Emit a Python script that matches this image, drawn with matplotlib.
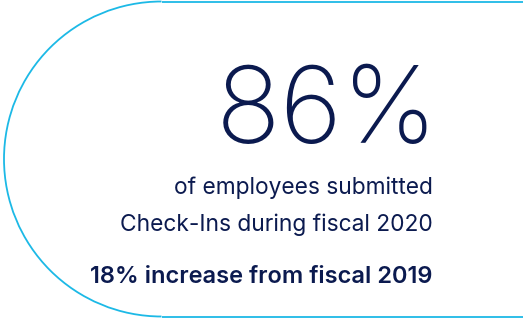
import matplotlib.pyplot as plt
from matplotlib.patches import Arc

# Content
headline = "86%"
subtitle_lines = ["of employees submitted", "Check-Ins during fiscal 2020"]
footnote = "18% increase from fiscal 2019"

navy = "#0b1a4f"
cyan = "#1cb9e6"

W, H = 523, 318
fig = plt.figure(figsize=(W / 100, H / 100), dpi=100)
ax = fig.add_axes([0, 0, 1, 1])
ax.set_xlim(0, W)
ax.set_ylim(H, 0)
ax.axis("off")

# Rounded outline (left half-circle + top/bottom edges)
r = 157.5
cx, cy = 4 + r, 159
ax.add_patch(Arc((cx, cy), 2 * r, 2 * r, theta1=90, theta2=270, color=cyan, lw=1.3))
ax.plot([cx, W], [cy - r, cy - r], color=cyan, lw=1.3, solid_capstyle="butt")
ax.plot([cx, W], [cy + r, cy + r], color=cyan, lw=1.3, solid_capstyle="butt")

right_x = 433
ax.text(right_x + 5, 143, headline, ha="right", va="baseline", fontsize=77,
        family="Inter", fontweight="light", color=navy)
ax.text(right_x, 194, subtitle_lines[0], ha="right", va="baseline", fontsize=16.4,
        family="Inter", color=navy)
ax.text(right_x, 231, subtitle_lines[1], ha="right", va="baseline", fontsize=16.4,
        family="Inter", color=navy)
ax.text(right_x, 283, footnote, ha="right", va="baseline", fontsize=17,
        family="Inter", fontweight="semibold", color=navy)

fig.savefig("out.png", dpi=100)
